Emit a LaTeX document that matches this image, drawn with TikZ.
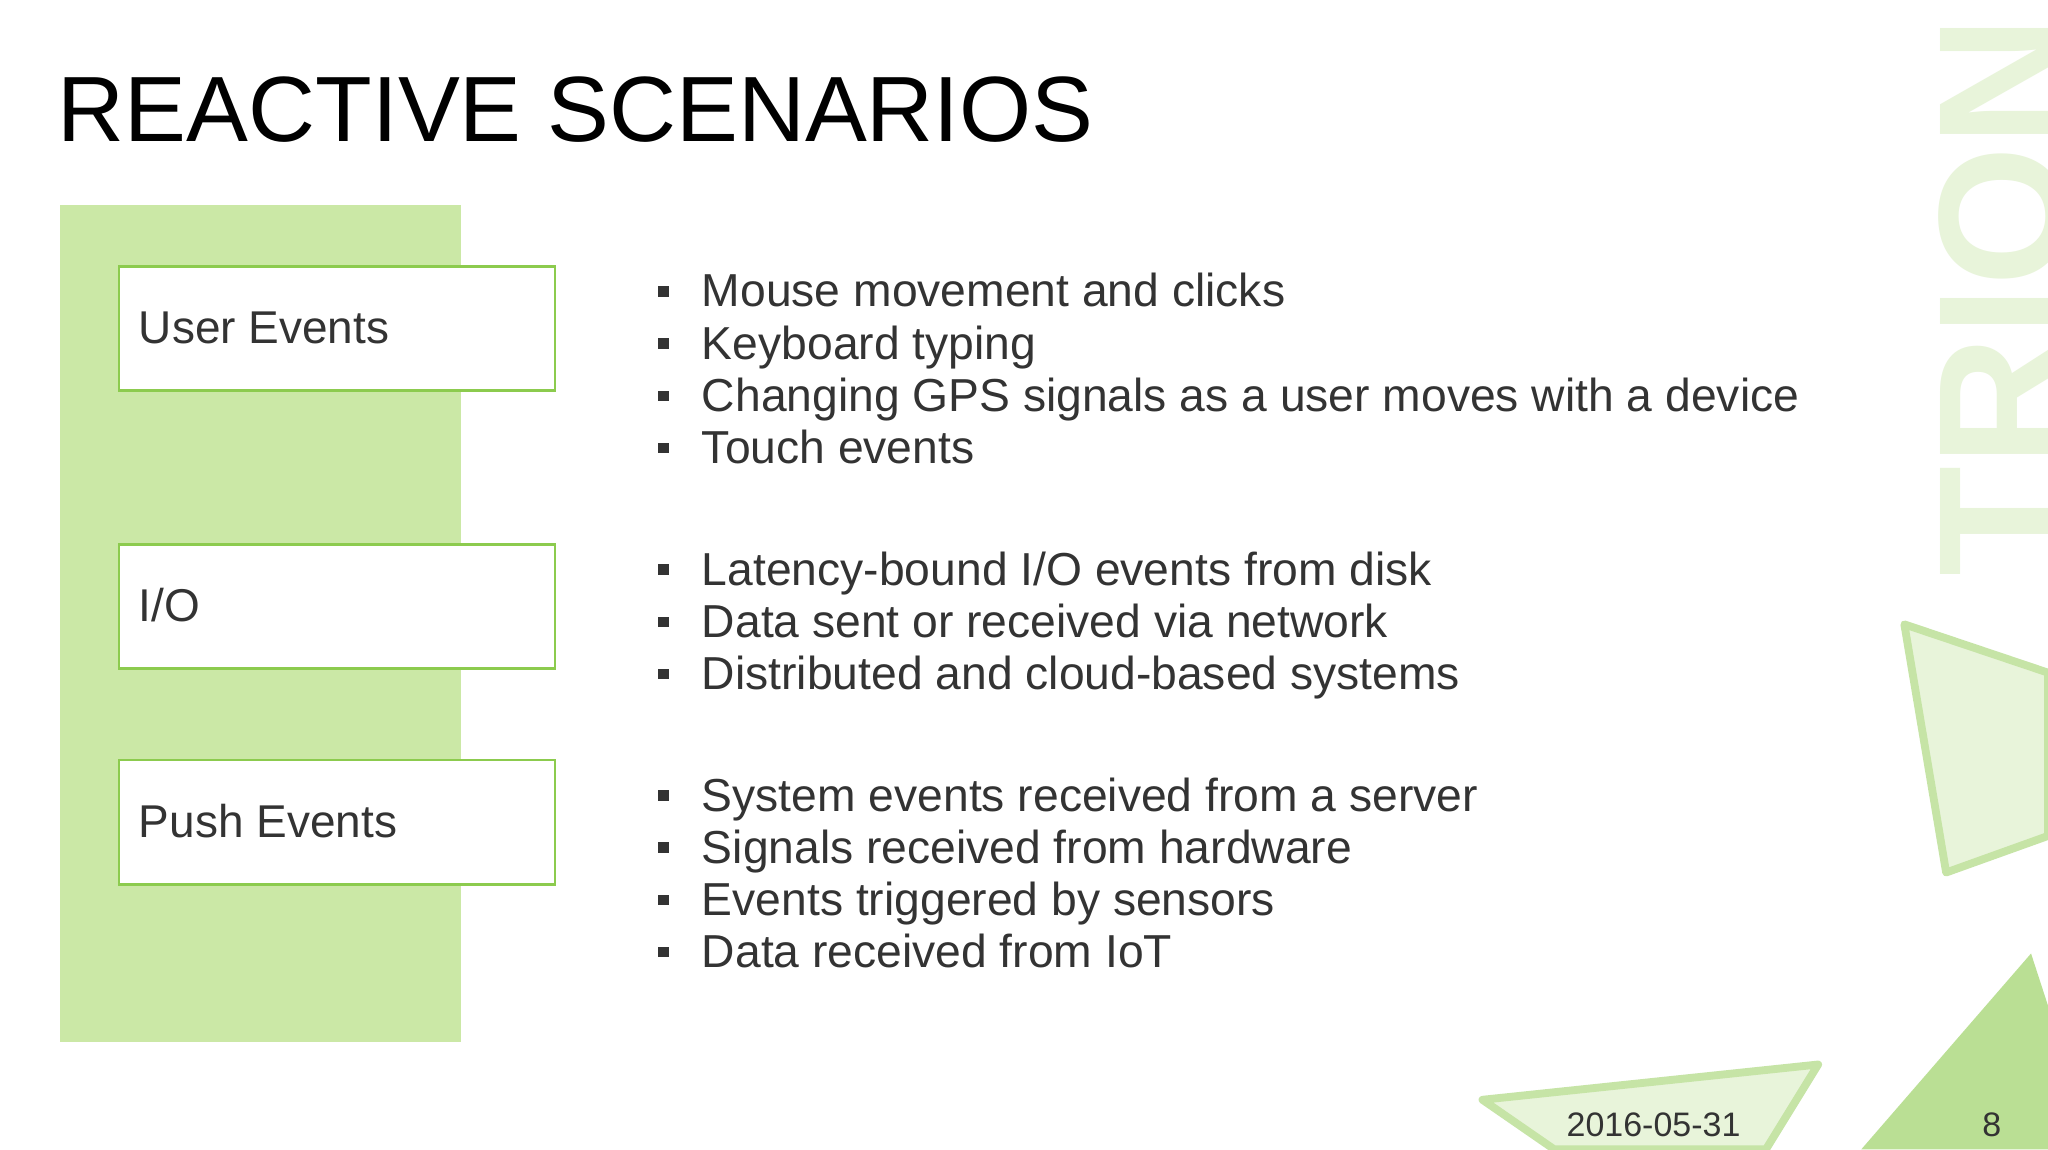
\documentclass[tikz,border=0pt]{standalone}
\usepackage{fontspec}
\setmainfont{Liberation Sans}
\begin{document}
\begin{tikzpicture}[x=0.5pt,y=-0.5pt,
  catbox/.style={draw=boxgreen,line width=1pt,fill=white,minimum width=167pt,minimum height=47.5pt,anchor=north west,inner sep=0pt},
  cattext/.style={font=\fontsize{17.6}{20}\selectfont,text=textgray,anchor=base west,inner sep=0pt},
  item/.style={font=\fontsize{17.7}{20}\selectfont,text=textgray,anchor=base west,inner sep=0pt},
  bul/.style={fill=textgray,minimum size=4pt,inner sep=0pt},
  deco/.style={draw=decogreen,line width=3pt,line join=round}]
\definecolor{boxgreen}{HTML}{8CCB4E}
\definecolor{band}{HTML}{CBE8A6}
\definecolor{textgray}{HTML}{333333}
\definecolor{decogreen}{HTML}{C6E4A6}
\definecolor{decofill}{HTML}{E8F4DA}
\useasboundingbox (0,0) rectangle (1568,880);
\fill[white] (0,0) rectangle (1568,880);
\begin{scope}
\clip (0,0) rectangle (1568,880);
\node[rotate=90,anchor=south west,inner sep=0pt,text=decofill,font=\bfseries\fontsize{69}{69}\selectfont] (logo) at (1582,442) {TRION};
\filldraw[deco,fill=decofill] (1458,478) -- (1568,515) -- (1568,640) -- (1490,668) -- cycle;
\filldraw[deco,fill=decofill] (1135,842) -- (1392,815) -- (1352,880) -- (1190,880) -- cycle;
\fill[decogreen!80!boxgreen] (1425,880) -- (1555,730) -- (1568,770) -- (1568,880) -- cycle;
\end{scope}
\node[anchor=base west,inner sep=0pt,font=\fontsize{35.5}{40}\selectfont] (title) at (44,108) {REACTIVE SCENARIOS};
\fill[band] (46,157) rectangle (353,798);
\node[catbox] (b1) at (90,203) {};
\node[catbox] (b2) at (90,416) {};
\node[catbox] (b3) at (90,581) {};
\node[cattext] (t1) at (106,263) {User Events};
\node[cattext] (t2) at (106,476) {I/O};
\node[cattext] (t3) at (106,641) {Push Events};
\foreach \y/\t [count=\i] in {223/{Mouse movement and clicks},263/{Keyboard typing},303/{Changing GPS signals as a user moves with a device},343/{Touch events},436/{Latency-bound I/O events from disk},476/{Data sent or received via network},516/{Distributed and cloud-based systems},609/{System events received from a server},649/{Signals received from hardware},689/{Events triggered by sensors},729/{Data received from IoT}}{
  \node[bul] (bu\i) at (508,\y) {};
  \node[item] (it\i) at (537,\y+12) {\t};
}
\node[font=\fontsize{13}{15}\selectfont,text=textgray] (date) at (1266,861) {2016-05-31};
\node[font=\fontsize{13}{15}\selectfont,text=textgray] (page) at (1525,861) {8};
\end{tikzpicture}
\end{document}
